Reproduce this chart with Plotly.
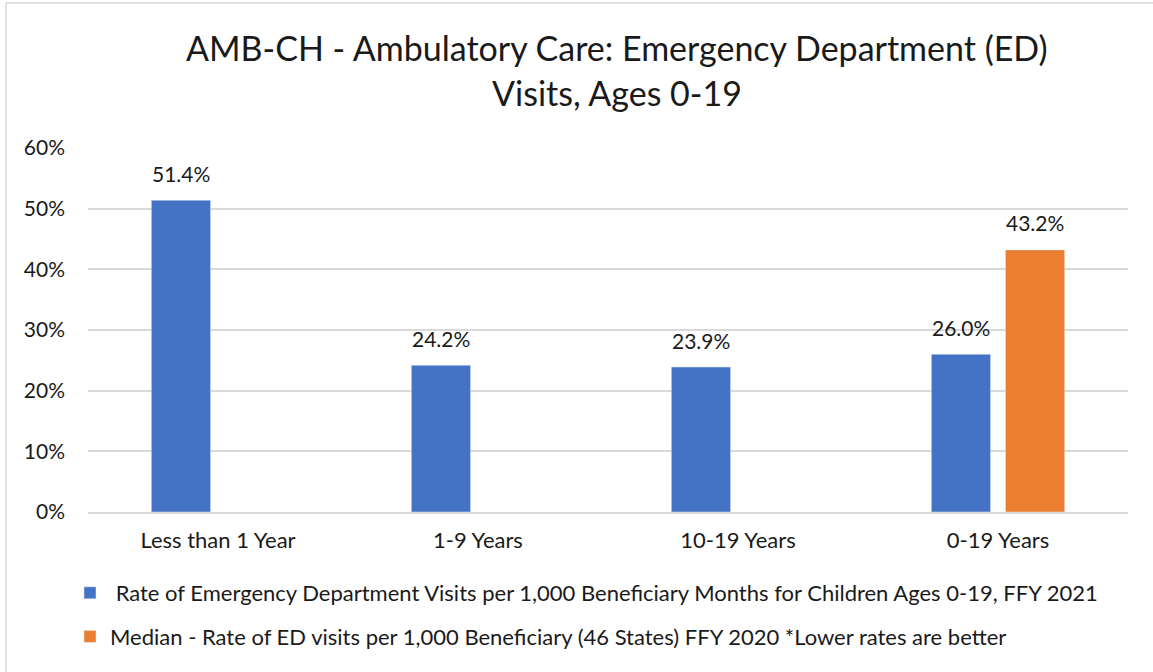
import plotly.graph_objects as go

# -------------------- DATA --------------------
categories = ["Less than 1 Year", "1-9 Years", "10-19 Years", "0-19 Years"]
rate_2021 = [51.4, 24.2, 23.9, 26.0]
median_2020 = [None, None, None, 43.2]
y_ticks = [0, 10, 20, 30, 40, 50, 60]

title_lines = ["AMB-CH - Ambulatory Care: Emergency Department (ED)", "Visits, Ages 0-19"]
name_rate = " Rate of Emergency Department Visits per 1,000 Beneficiary Months for Children Ages 0-19, FFY 2021"
name_median = "Median - Rate of ED visits per 1,000 Beneficiary (46 States) FFY 2020 *Lower rates are better"

FONT = "Lato, 'Open Sans', sans-serif"
TXT = "#1a1a1a"

W, H = 1153, 672
ML, MR, MT, MB = 88, 25, 148, 160
pw, ph = W - ML - MR, H - MT - MB
BARGAP = 0.43


def px_x(x):
    return (x - ML) / pw


def px_y(y):
    return (H - MB - y) / ph


fig = go.Figure()

fig.add_trace(go.Bar(
    x=categories, y=rate_2021,
    name=name_rate,
    marker=dict(color="#4472C4"),
    legendgroup="a",
))

fig.add_trace(go.Bar(
    x=categories, y=median_2020,
    name=name_median,
    marker=dict(color="#ED7D31"),
    legendgroup="b",
))

# data labels, lifted above the bars a bit more than plotly's own padding
slot = pw / len(categories) * (1 - BARGAP) / 2
for shift, vals in ((-slot / 2, rate_2021), (slot / 2, median_2020)):
    for cat, v in zip(categories, vals):
        if v is None:
            continue
        fig.add_annotation(
            x=cat, y=v, text=f"{v:.1f}%",
            xshift=shift, yshift=27, yanchor="middle",
            showarrow=False,
            font=dict(size=21, color=TXT, family=FONT),
        )

# title, one annotation per line
for i, line in enumerate(title_lines):
    fig.add_annotation(
        text=line, xref="paper", yref="paper",
        x=px_x(617), y=px_y(47 + 45 * i),
        xanchor="center", yanchor="middle", showarrow=False,
        font=dict(size=34, color=TXT, family=FONT),
    )

# outer frame of the chart (only top and left edges are visible)
fig.add_shape(
    type="rect", xref="paper", yref="paper",
    x0=px_x(6), x1=px_x(W + 10),
    y0=px_y(H + 10), y1=px_y(3),
    line=dict(color="#D9D9D9", width=1.5), layer="below",
)

fig.update_layout(
    width=W, height=H,
    paper_bgcolor="white", plot_bgcolor="white",
    margin=dict(l=ML, r=MR, t=MT, b=MB, autoexpand=False),
    font=dict(family=FONT, size=21, color=TXT),
    barmode="group", bargap=BARGAP, bargroupgap=0.2,
    showlegend=True,
    legend=dict(
        orientation="v", x=px_x(70), xanchor="left",
        yref="container", y=1 - 572 / H, yanchor="top",
        traceorder="grouped", tracegroupgap=12,
        font=dict(size=22, color=TXT, family=FONT),
        itemwidth=30,
    ),
    hovermode=False,
)

fig.update_yaxes(
    range=[0, 60], tickvals=y_ticks,
    ticktext=[f"{t}%" for t in y_ticks],
    showgrid=True, gridcolor="#D9D9D9", gridwidth=1.5,
    zeroline=False, showline=False, automargin=False,
    ticks="", ticklabelstandoff=22,
    tickfont=dict(size=21, color=TXT),
)
fig.update_xaxes(
    showline=True, linecolor="#D9D9D9", linewidth=1.5,
    ticks="", automargin=False, ticklabelstandoff=8,
    tickfont=dict(size=22, color=TXT),
)

fig.write_html(
    "out.html",
    config={"displayModeBar": False},
    post_script="document.body.style.margin='0';document.body.style.overflow='hidden';",
)
